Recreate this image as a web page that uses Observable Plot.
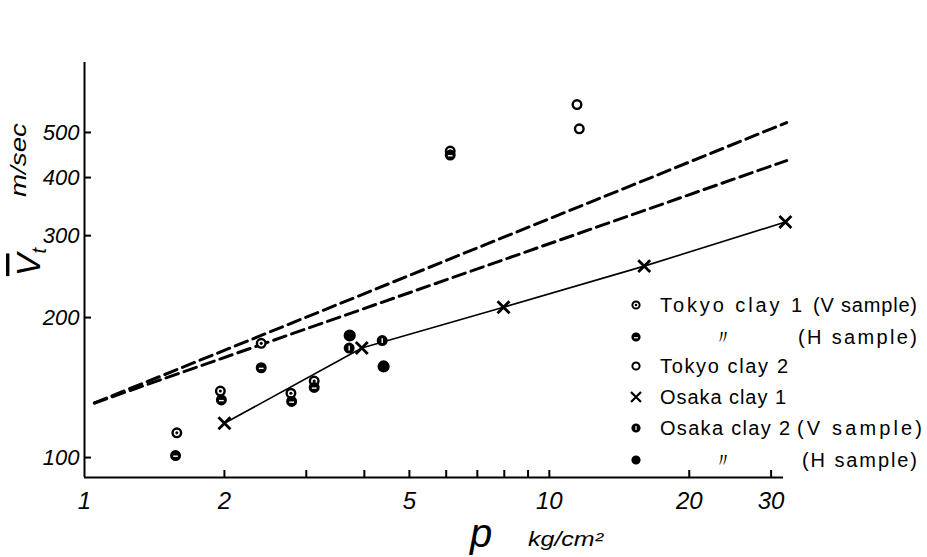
<!DOCTYPE html>
<html>
<head>
<meta charset="utf-8">
<script src="https://cdn.jsdelivr.net/npm/d3@7"></script>
<script src="https://cdn.jsdelivr.net/npm/@observablehq/plot@0.6"></script>
<style>
  html, body { margin: 0; padding: 0; background: #fff; }
  #wrap { position: relative; width: 927px; height: 557px; }
  #overlay { position: absolute; left: 0; top: 0; pointer-events: none; }
  text { font-family: "Liberation Sans", Arial, sans-serif; }
</style>
</head>
<body>
<div id="wrap"></div>
<script>
// ---------- data ----------
// pressure p (kg/cm2) and shear wave velocity Vt (m/sec)
const tokyo1V_p = [1.58, 1.96, 2.40, 2.78, 3.12, 6.12];
const tokyo1V_v = [113, 139, 176, 137.5, 146, 456];
const tokyo1H_p = [1.57, 1.97, 2.40, 2.79, 3.12, 6.12];
const tokyo1H_v = [101, 133, 156, 132, 141.5, 447];
const tokyo2_p = [11.47, 11.6];
const tokyo2_v = [574, 509];
const osaka1_p = [2, 3.95, 7.97, 16, 32.2];
const osaka1_v = [118.5, 172, 210.5, 258, 321];
const osaka2V_p = [3.71, 4.37];
const osaka2V_v = [172, 178.5];
const osaka2H_p = [3.72, 4.40];
const osaka2H_v = [183, 157];
const dashUpper_p = [1.05, 32.4];
const dashUpper_v = [131, 525];
const dashLower_p = [1.05, 32.4];
const dashLower_v = [131, 435];

const xTicks = [2, 3, 4, 5, 6, 7, 8, 9, 10, 20, 30];
const xTickLabels = [1, 2, 5, 10, 20, 30];
const yTicks = [100, 200, 300, 400, 500];

const legendNames = ["Tokyo clay 1", "〃", "Tokyo clay 2", "Osaka clay 1", "Osaka clay 2", "〃"];
const legendSamples = ["(V sample)", "(H sample)", "", "", "(V sample)", "(H sample)"];

// ---------- helpers ----------
const rows = (ps, vs) => ps.map((p, i) => ({p, v: vs[i]}));
const t1V = rows(tokyo1V_p, tokyo1V_v);
const t1H = rows(tokyo1H_p, tokyo1H_v);
const t2 = rows(tokyo2_p, tokyo2_v);
const o1 = rows(osaka1_p, osaka1_v);
const o2V = rows(osaka2V_p, osaka2V_v);
const o2H = rows(osaka2H_p, osaka2H_v);
const dU = rows(dashUpper_p, dashUpper_v);
const dL = rows(dashLower_p, dashLower_v);

const slitH = {draw(ctx, size) { const r = Math.sqrt(size / Math.PI); ctx.moveTo(-r * 0.55, r * 0.15); ctx.lineTo(r * 0.55, r * 0.15); }};
const slitV = {draw(ctx, size) { const r = Math.sqrt(size / Math.PI); ctx.moveTo(0, -r * 0.55); ctx.lineTo(0, r * 0.55); }};
const innerDot = {draw(ctx, size) { const r = Math.sqrt(size / Math.PI) * 0.36; ctx.moveTo(r, 0); ctx.arc(0, 0, r, 0, 2 * Math.PI); }};

const X = {x: "p", y: "v"};
const R = 4.3;
const SW = 2.4;

const chart = Plot.plot({
  width: 927,
  height: 557,
  marginLeft: 84,
  marginRight: 144,
  marginTop: 62,
  marginBottom: 80,
  style: {fontFamily: "Liberation Sans, Arial, sans-serif", background: "white", color: "black"},
  x: {type: "log", domain: [1, 31.9], label: null},
  y: {type: "log", domain: [90.6, 707], label: null},
  marks: [
    Plot.ruleX([1], {stroke: "black", strokeWidth: 2}),
    Plot.ruleY([90.6], {stroke: "black", strokeWidth: 2}),
    Plot.axisX(xTicks, {tickSize: -7, strokeWidth: 2, tickFormat: () => "", label: null}),
    Plot.axisX(xTickLabels, {tickSize: 0, tickPadding: 14, fontSize: 24, fontStyle: "italic", tickFormat: d => String(d), label: null}),
    Plot.axisY(yTicks, {tickSize: -7, strokeWidth: 2, tickFormat: () => "", label: null}),
    Plot.axisY(yTicks, {tickSize: 0, tickPadding: 5, fontSize: 22, fontStyle: "italic", tickFormat: d => String(d), label: null}),
    Plot.line(dU, {...X, stroke: "black", strokeWidth: 3, strokeDasharray: "13,6"}),
    Plot.line(dL, {...X, stroke: "black", strokeWidth: 3, strokeDasharray: "13,6"}),
    Plot.line(o1, {...X, stroke: "black", strokeWidth: 1.6}),
    Plot.dot(o1, {...X, symbol: "times", r: 5.5, stroke: "black", strokeWidth: 2.8}),
    Plot.dot(t1V, {...X, r: R, fill: "white", stroke: "black", strokeWidth: SW}),
    Plot.dot(t1V, {...X, r: R, symbol: innerDot, fill: "black", stroke: "none"}),
    Plot.dot(t1H, {...X, r: R, fill: "black", stroke: "black", strokeWidth: SW}),
    Plot.dot(t1H, {...X, r: R, symbol: slitH, stroke: "white", strokeWidth: 1.4}),
    Plot.dot(t2, {...X, r: R, fill: "white", stroke: "black", strokeWidth: SW}),
    Plot.dot(o2V, {...X, r: R, fill: "black", stroke: "black", strokeWidth: SW}),
    Plot.dot(o2V, {...X, r: R, symbol: slitV, stroke: "white", strokeWidth: 1.4}),
    Plot.dot(o2H, {...X, r: R + 0.6, fill: "black", stroke: "black", strokeWidth: SW})
  ]
});
document.getElementById("wrap").appendChild(chart);

// ---------- overlay: axis titles and legend ----------
const svg = d3.select("#wrap").append("svg")
  .attr("id", "overlay").attr("width", 927).attr("height", 557);

// y title
svg.append("text").attr("transform", "translate(40,262) rotate(-90)")
  .attr("text-anchor", "middle").attr("font-size", 34).attr("font-style", "italic")
  .call(t => {
    t.append("tspan").attr("text-decoration", "overline").text("V");
    t.append("tspan").attr("font-size", 20).attr("dy", 6).text("t");
  });
svg.append("text").attr("transform", "translate(26,160) rotate(-90)")
  .attr("text-anchor", "middle").attr("font-size", 22).attr("font-style", "italic")
  .attr("textLength", 74).attr("lengthAdjust", "spacingAndGlyphs").text("m/sec");

// x title
svg.append("text").attr("x", 481).attr("y", 547).attr("text-anchor", "middle")
  .attr("font-size", 40).attr("font-style", "italic").text("p");
svg.append("text").attr("x", 528).attr("y", 546)
  .attr("font-size", 20).attr("font-style", "italic")
  .attr("textLength", 75).attr("lengthAdjust", "spacingAndGlyphs").text("kg/cm²");

// legend
const ly = [305, 337, 366, 397, 428, 460];
const nameX = [660, 713, 660, 660, 660, 713];
const nameW = [142, 13, 128, 126, 130, 13];
const sampX = [813, 798, 0, 0, 797, 802];
const sampW = [104, 119, 0, 0, 125, 115];
const mx = 636, mr = 3.6;
const g = svg.append("g");
ly.forEach((y, i) => {
  if (i === 3) {
    const s = 5;
    g.append("path").attr("d", `M${mx - s},${y - s}L${mx + s},${y + s}M${mx - s},${y + s}L${mx + s},${y - s}`)
      .attr("stroke", "black").attr("stroke-width", 2.2);
  } else {
    const filled = (i === 1 || i === 4 || i === 5);
    g.append("circle").attr("cx", mx).attr("cy", y).attr("r", mr)
      .attr("fill", filled ? "black" : "white").attr("stroke", "black").attr("stroke-width", 2);
    if (i === 0) g.append("circle").attr("cx", mx).attr("cy", y).attr("r", 1.3).attr("fill", "black");
    if (i === 1) g.append("path").attr("d", `M${mx - 2},${y + 0.8}H${mx + 2}`).attr("stroke", "white").attr("stroke-width", 1.2);
    if (i === 4) g.append("path").attr("d", `M${mx},${y - 2}V${y + 2}`).attr("stroke", "white").attr("stroke-width", 1.2);
  }
  g.append("text").attr("x", nameX[i]).attr("y", y + 7).attr("font-size", 20)
    .attr("textLength", nameW[i]).attr("lengthAdjust", "spacing").text(legendNames[i]);
  if (legendSamples[i]) {
    g.append("text").attr("x", sampX[i]).attr("y", y + 7).attr("font-size", 20)
      .attr("textLength", sampW[i]).attr("lengthAdjust", "spacing").text(legendSamples[i]);
  }
});
</script>
</body>
</html>
